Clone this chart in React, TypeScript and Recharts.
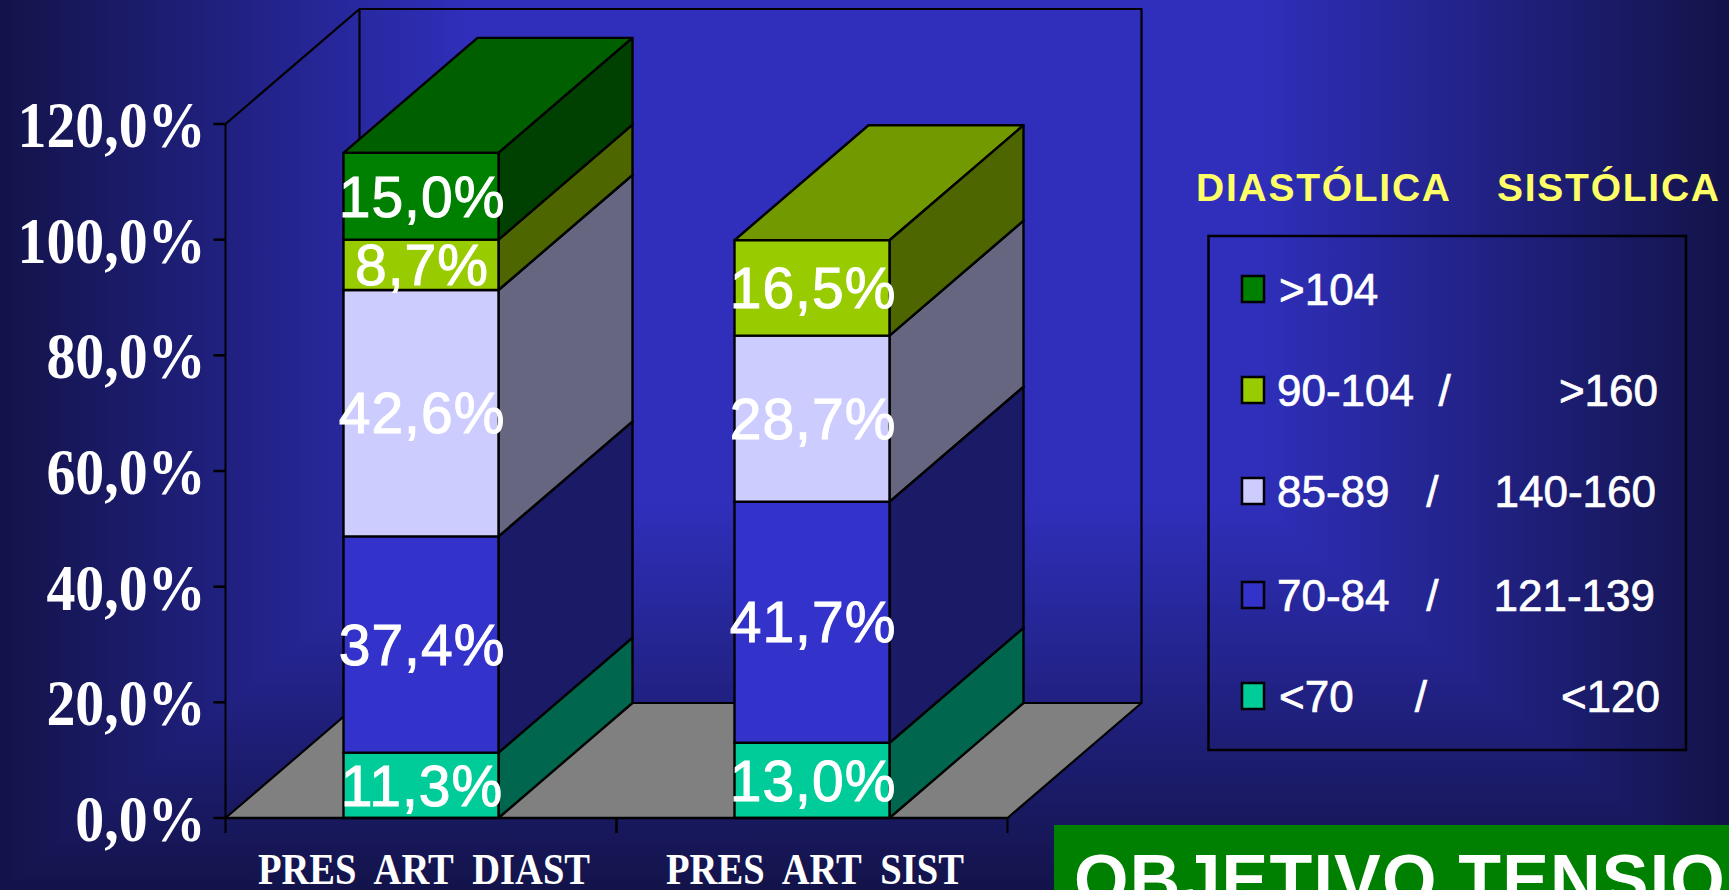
import React from 'react';
import { BarChart, Bar, XAxis, YAxis, LabelList, Customized } from 'recharts';

const categories = ['PRES  ART  DIAST', 'PRES  ART  SIST'];
const below70 = [11.3, 13.0];
const from70to84 = [37.4, 41.7];
const from85to89 = [42.6, 28.7];
const from90to104 = [8.7, 16.5];
const above104 = [15.0, null];
const yTicks = [0, 20, 40, 60, 80, 100, 120];
const legendTitle = ['DIASTÓLICA', 'SISTÓLICA'];
const diastolicNames = ['<70     /', '70-84   /', '85-89   /', '90-104  /', '>104'];
const systolicNames = ['<120', '121-139', '140-160', '>160', ''];
const bannerText = 'OBJETIVO TENSIONAL';

const rows = categories.map((name, i) => ({
  name,
  s0: below70[i],
  s1: from70to84[i],
  s2: from85to89[i],
  s3: from90to104[i],
  s4: above104[i],
}));

const W = 1729;
const H = 890;
const DX = 134;
const DY = 115;
const PLOT = { left: 225.5, top: 124, right: 1007.5, bottom: 818 };
const SANS = '"Liberation Sans", Arial, sans-serif';
const SERIF = '"Liberation Serif", "Times New Roman", serif';

const faces = [
  { front: '#00cc99', side: '#00664d', top: '#009973' },
  { front: '#3333cc', side: '#1a1a66', top: '#262699' },
  { front: '#ccccff', side: '#666680', top: '#9999bf' },
  { front: '#99cc00', side: '#4d6600', top: '#739900' },
  { front: '#008000', side: '#004000', top: '#006000' },
];

function Background() {
  const cx = 864;
  const cy = 181;
  const top = -528;
  const stops = (
    <>
      <stop offset="0.45" stopColor="#2f2fbc" />
      <stop offset="1" stopColor="#13134a" />
    </>
  );
  return (
    <svg width={W} height={H} style={{ position: 'absolute', left: 0, top: 0 }}>
      <defs>
        <linearGradient id="gl" gradientUnits="userSpaceOnUse" x1={cx} y1={0} x2={0} y2={0}>{stops}</linearGradient>
        <linearGradient id="gr" gradientUnits="userSpaceOnUse" x1={cx} y1={0} x2={W} y2={0}>{stops}</linearGradient>
        <linearGradient id="gt" gradientUnits="userSpaceOnUse" x1={0} y1={cy} x2={0} y2={top}>{stops}</linearGradient>
        <linearGradient id="gb" gradientUnits="userSpaceOnUse" x1={0} y1={cy} x2={0} y2={H}>{stops}</linearGradient>
      </defs>
      <g shapeRendering="crispEdges">
        <polygon points={`${cx},${cy} 0,${top} ${W},${top}`} fill="url(#gt)" />
        <polygon points={`${cx},${cy} 0,${H} ${W},${H}`} fill="url(#gb)" />
        <polygon points={`${cx},${cy} 0,${top} 0,${H}`} fill="url(#gl)" />
        <polygon points={`${cx},${cy} ${W},${top} ${W},${H}`} fill="url(#gr)" />
      </g>
    </svg>
  );
}

function Walls() {
  const { left, top, right, bottom } = PLOT;
  return (
    <g stroke="#000" strokeWidth={2.2} strokeLinejoin="round">
      <polygon
        points={`${left},${bottom} ${left + DX},${bottom - DY} ${right + DX},${bottom - DY} ${right},${bottom}`}
        fill="#808080"
      />
      <polyline
        points={`${left},${top} ${left + DX},${top - DY} ${right + DX},${top - DY} ${right + DX},${bottom - DY}`}
        fill="none"
      />
      <line x1={left + DX} y1={top - DY} x2={left + DX} y2={bottom - DY} />
    </g>
  );
}

function makeBox(index: number) {
  const c = faces[index];
  return function Box(props: any) {
    const { x, y, width, height } = props;
    if (!height || height <= 0) return <g />;
    const b = y + height;
    const r = x + width;
    return (
      <g stroke="#000" strokeWidth={2.4} strokeLinejoin="round">
        <polygon points={`${x},${y} ${r},${y} ${r + DX},${y - DY} ${x + DX},${y - DY}`} fill={c.top} />
        <polygon points={`${r},${y} ${r + DX},${y - DY} ${r + DX},${b - DY} ${r},${b}`} fill={c.side} />
        <rect x={x} y={y} width={width} height={height} fill={c.front} />
      </g>
    );
  };
}

function YTick(props: any) {
  const { x, y, payload } = props;
  const label = `${payload.value.toFixed(1).replace('.', ',')}%`;
  return (
    <text
      transform={`translate(${x - 8},${y + 23}) scale(0.89,1)`}
      textAnchor="end"
      fontFamily={SERIF}
      fontWeight="bold"
      fontSize={65}
      fill="#fff"
    >
      {label}
    </text>
  );
}

function XTick(props: any) {
  const { x, payload } = props;
  const half = (PLOT.right - PLOT.left) / categories.length / 2;
  return (
    <g>
      <line x1={x - half} x2={x - half} y1={PLOT.bottom} y2={PLOT.bottom + 15} stroke="#000" strokeWidth={2} />
      <line x1={x + half} x2={x + half} y1={PLOT.bottom} y2={PLOT.bottom + 15} stroke="#000" strokeWidth={2} />
      <text
        transform={`translate(${x + 3},${PLOT.bottom + 66}) scale(0.857,1)`}
        textAnchor="middle"
        fontFamily={SERIF}
        fontWeight="bold"
        fontSize={45}
        fill="#fff"
        style={{ whiteSpace: 'pre' }}
      >
        {payload.value}
      </text>
    </g>
  );
}

const legendSwatchY = [683, 582, 478, 377, 276];
const legendTextY = [712, 611, 507, 406, 305];
const legendTextX = [1279, 1277, 1277, 1277, 1279];
const legendRightX = [1660, 1655, 1656, 1658, 1658];

function LegendBox() {
  return (
    <g>
      <text x={1196} y={201} fontFamily={SANS} fontWeight="bold" fontSize={39} fill="#ffff66" textLength={254} lengthAdjust="spacing">
        {legendTitle[0]}
      </text>
      <text x={1497} y={201} fontFamily={SANS} fontWeight="bold" fontSize={39} fill="#ffff66" textLength={222} lengthAdjust="spacing">
        {legendTitle[1]}
      </text>
      <rect x={1208.5} y={236} width={477.5} height={514} fill="none" stroke="#000" strokeWidth={2.5} />
      {diastolicNames.map((name, i) => (
        <g key={name} fontFamily={SANS} fontSize={44} fill="#fff" stroke="#fff" strokeWidth={0.7}>
          <rect x={1242} y={legendSwatchY[i]} width={22} height={26} fill={faces[i].front} stroke="#000" strokeWidth={2.5} />
          <text x={legendTextX[i]} y={legendTextY[i]} style={{ whiteSpace: 'pre' }}>
            {name}
          </text>
          {systolicNames[i] ? (
            <text x={legendRightX[i]} y={legendTextY[i]} textAnchor="end">
              {systolicNames[i]}
            </text>
          ) : null}
        </g>
      ))}
      <rect x={1054} y={825} width={W - 1054} height={H - 825} fill="#008000" />
      <text x={1074} y={904} fontFamily={SANS} fontWeight="bold" fontSize={70} letterSpacing={1.2} fill="#fff">
        {bannerText}
      </text>
    </g>
  );
}

const fmt = (v: any) => (v === null || v === undefined ? '' : `${Number(v).toFixed(1).replace('.', ',')}%`);
const seriesKeys = ['s0', 's1', 's2', 's3', 's4'];

export default function App() {
  return (
    <div style={{ position: 'absolute', left: 0, top: 0, width: W, height: H, overflow: 'hidden' }}>
      <Background />
      <div style={{ position: 'absolute', left: 0, top: 0 }}>
        <BarChart
          width={W}
          height={H}
          data={rows}
          margin={{ left: 0, top: PLOT.top, right: W - PLOT.right, bottom: 0 }}
          barSize={155}
        >
          <Customized component={Walls} />
          <XAxis
            dataKey="name"
            height={H - PLOT.bottom}
            interval={0}
            tickLine={false}
            axisLine={{ stroke: '#000', strokeWidth: 2.5 }}
            tick={<XTick />}
          />
          <YAxis
            width={PLOT.left}
            domain={[0, 120]}
            ticks={yTicks}
            tickSize={12}
            tickMargin={0}
            tickLine={{ stroke: '#000', strokeWidth: 2.5 }}
            axisLine={{ stroke: '#000', strokeWidth: 2 }}
            tick={<YTick />}
          />
          {seriesKeys.map((k, i) => (
            <Bar
              key={k}
              dataKey={k}
              name={diastolicNames[i]}
              stackId="a"
              fill={faces[i].front}
              isAnimationActive={false}
              shape={makeBox(i)}
            >
              <LabelList
                dataKey={k}
                position="center"
                formatter={fmt}
                fill="#fff"
                stroke="#fff"
                strokeWidth={1}
                fontSize={57}
                letterSpacing={1}
                fontFamily={SANS}
                dx={1}
              />
            </Bar>
          ))}
          <Customized component={LegendBox} />
        </BarChart>
      </div>
    </div>
  );
}
